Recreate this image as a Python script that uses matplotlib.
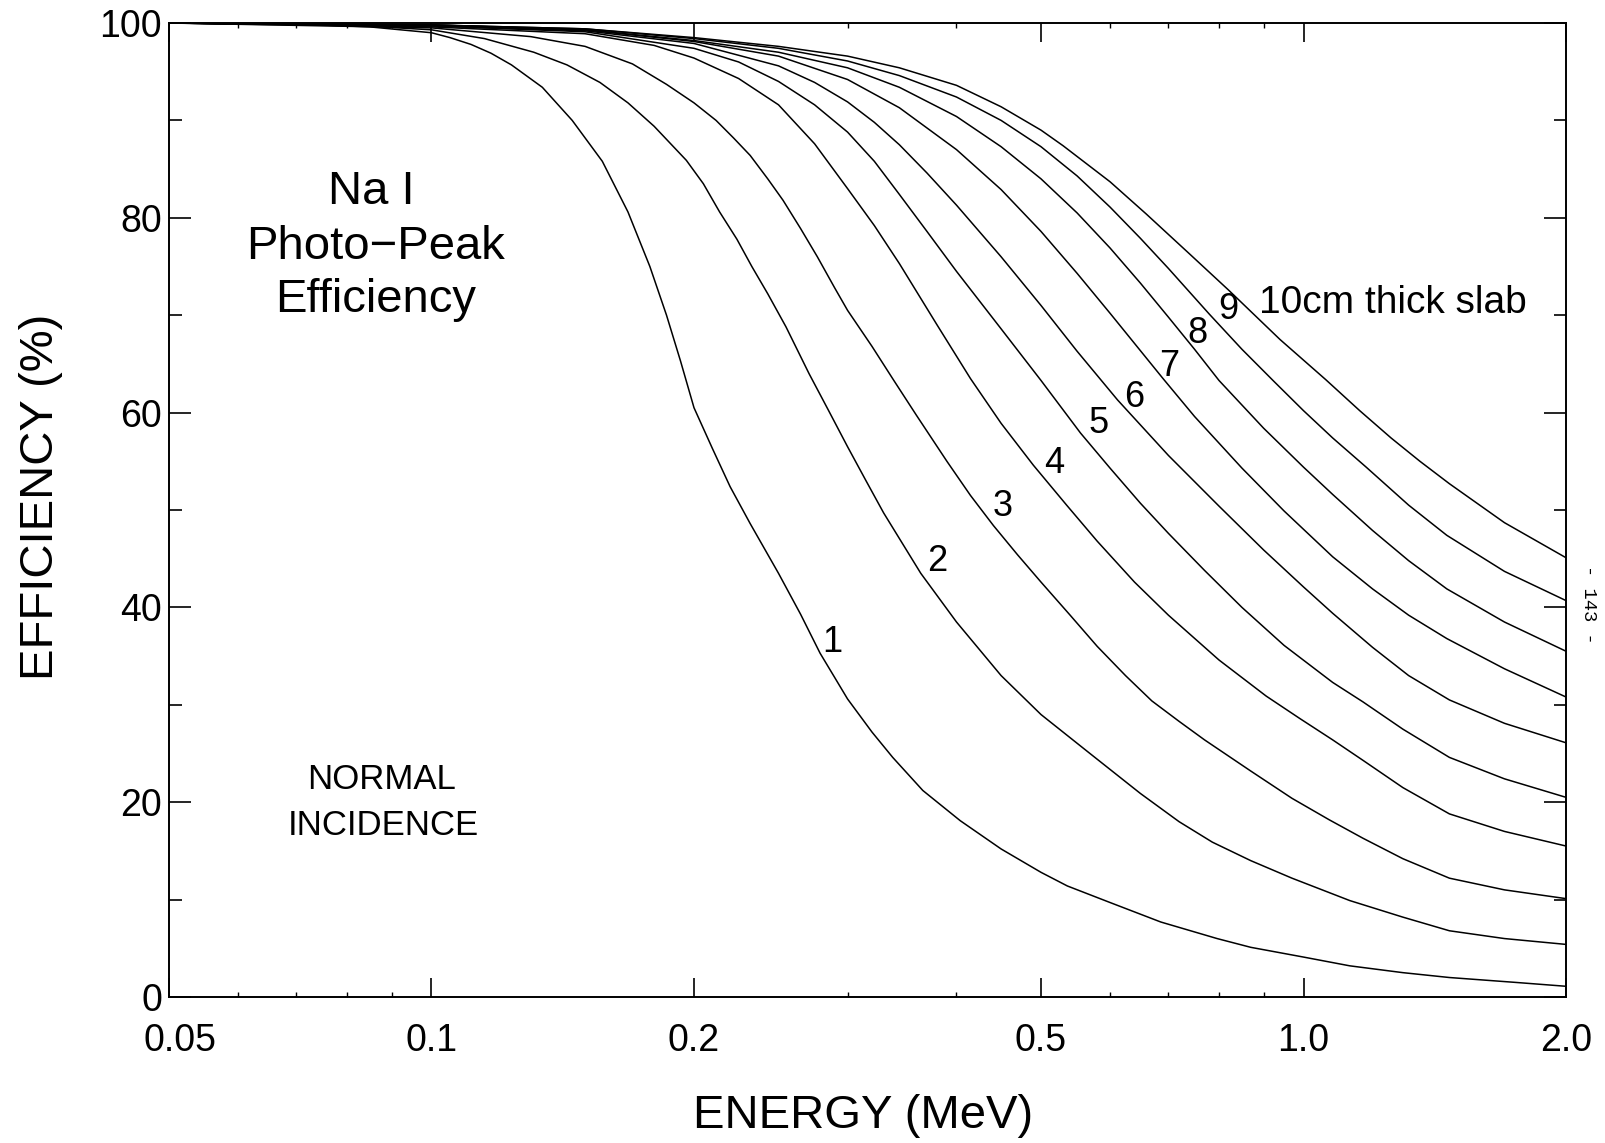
import matplotlib
matplotlib.use("Agg")
from matplotlib import pyplot as plt
from matplotlib.ticker import NullFormatter
from matplotlib.transforms import ScaledTranslation

plt.rcParams['font.family'] = ['Liberation Sans', 'DejaVu Sans']

E1 = [0.05, 0.07, 0.085, 0.1, 0.105, 0.111, 0.117, 0.1235, 0.134, 0.145, 0.157, 0.168, 0.178,
      0.186, 0.193, 0.2, 0.21, 0.22, 0.232, 0.25, 0.265, 0.279, 0.29, 0.30, 0.32, 0.338, 0.366,
      0.404, 0.45, 0.5, 0.536, 0.6, 0.686, 0.796, 0.87, 1.0, 1.13, 1.3, 1.47, 1.75, 2.0]
Y1 = [100, 99.9, 99.6, 99.0, 98.5, 97.8, 96.9, 95.7, 93.4, 90.0, 85.8, 80.6, 75.0,
      70.0, 65.3, 60.5, 56.3, 52.4, 48.6, 43.5, 39.3, 35.3, 32.8, 30.6, 27.2, 24.6, 21.2,
      18.1, 15.2, 12.8, 11.4, 9.7, 7.7, 6.0, 5.1, 4.1, 3.2, 2.5, 2.0, 1.5, 1.1]

E2 = [0.05, 0.08, 0.1, 0.115, 0.131, 0.143, 0.156, 0.168, 0.18, 0.196, 0.205, 0.214, 0.224,
      0.233, 0.243, 0.255, 0.271, 0.285, 0.30, 0.315, 0.33, 0.364, 0.40, 0.45, 0.5, 0.569, 0.65,
      0.72, 0.786, 0.87, 0.97, 1.13, 1.3, 1.47, 1.7, 2.0]
Y2 = [100, 99.8, 99.3, 98.4, 97.0, 95.7, 93.9, 91.8, 89.4, 85.9, 83.5, 80.6, 77.8,
      75.0, 72.2, 68.8, 64.0, 60.3, 56.5, 53.0, 49.7, 43.5, 38.5, 33.0, 29.0, 25.0, 20.9,
      18.0, 15.9, 14.0, 12.2, 9.9, 8.2, 6.8, 6.0, 5.4]

E3 = [0.05, 0.1, 0.13, 0.15, 0.17, 0.186, 0.2, 0.212, 0.222, 0.232, 0.243, 0.253, 0.265, 0.277,
      0.29, 0.30, 0.32, 0.339, 0.36, 0.39, 0.415, 0.441, 0.47, 0.5, 0.54, 0.58, 0.625, 0.67,
      0.72, 0.77, 0.87, 0.97, 1.07, 1.17, 1.3, 1.47, 1.7, 2.0]
Y3 = [100, 99.5, 98.6, 97.6, 95.8, 93.7, 91.8, 90.0, 88.2, 86.4, 84.0, 81.8, 78.9, 76.0,
      72.8, 70.5, 66.8, 63.3, 59.7, 55.0, 51.5, 48.4, 45.4, 42.6, 39.2, 36.0, 33.0, 30.4,
      28.3, 26.4, 23.2, 20.4, 18.2, 16.3, 14.2, 12.2, 11.0, 10.1]

E4 = [0.05, 0.1, 0.15, 0.18, 0.2, 0.225, 0.25, 0.275, 0.3, 0.322, 0.344, 0.38, 0.415, 0.45,
      0.49, 0.535, 0.58, 0.64, 0.7, 0.8, 0.906, 0.99, 1.08, 1.17, 1.3, 1.47, 1.7, 2.0]
Y4 = [100, 99.6, 98.9, 97.7, 96.4, 94.3, 91.6, 87.6, 83.0, 79.2, 75.3, 69.0, 63.5, 58.9,
      54.6, 50.5, 46.8, 42.6, 39.2, 34.6, 30.9, 28.6, 26.4, 24.3, 21.5, 18.8, 17.0, 15.5]

E5 = [0.05, 0.1, 0.15, 0.2, 0.225, 0.25, 0.275, 0.3, 0.322, 0.344, 0.37, 0.4, 0.45, 0.5,
      0.555, 0.6, 0.65, 0.7, 0.77, 0.85, 0.95, 1.08, 1.17, 1.3, 1.47, 1.7, 2.0]
Y5 = [100, 99.7, 99.1, 97.4, 96.0, 94.0, 91.6, 88.8, 85.8, 82.4, 78.6, 74.5, 68.6, 63.3,
      57.9, 54.3, 50.7, 47.6, 43.8, 40.0, 36.1, 32.3, 30.3, 27.5, 24.6, 22.4, 20.5]

E6 = [0.05, 0.1, 0.15, 0.2, 0.25, 0.275, 0.3, 0.322, 0.344, 0.37, 0.4, 0.45, 0.5, 0.55, 0.612,
      0.7, 0.8, 0.9, 1.0, 1.08, 1.2, 1.32, 1.47, 1.7, 2.0]
Y6 = [100, 99.7, 99.2, 97.9, 95.6, 93.9, 91.9, 89.8, 87.5, 84.6, 81.3, 76.0, 71.0, 66.3, 61.3,
      55.6, 50.4, 45.9, 42.1, 39.4, 35.9, 33.0, 30.5, 28.1, 26.1]

E7 = [0.05, 0.1, 0.15, 0.2, 0.25, 0.3, 0.344, 0.4, 0.45, 0.5, 0.55, 0.6, 0.69, 0.75, 0.85,
      0.95, 1.08, 1.2, 1.32, 1.46, 1.7, 2.0]
Y7 = [100, 99.8, 99.3, 98.1, 96.6, 94.2, 91.3, 87.0, 82.9, 78.6, 74.3, 70.2, 63.5, 59.6, 54.3,
      49.9, 45.2, 41.9, 39.2, 36.8, 33.7, 30.8]

E8 = [0.05, 0.1, 0.15, 0.2, 0.25, 0.3, 0.344, 0.4, 0.45, 0.5, 0.55, 0.6, 0.65, 0.7, 0.75, 0.8,
      0.9, 1.0, 1.08, 1.2, 1.32, 1.46, 1.7, 2.0]
Y8 = [100, 99.8, 99.3, 98.2, 97.0, 95.4, 93.4, 90.4, 87.3, 84.0, 80.5, 76.9, 73.3, 69.8, 66.5, 63.3,
      58.4, 54.4, 51.6, 47.9, 44.8, 41.9, 38.5, 35.5]

E9 = [0.05, 0.1, 0.15, 0.2, 0.25, 0.3, 0.344, 0.4, 0.45, 0.5, 0.55, 0.6, 0.65, 0.7, 0.78, 0.85,
      0.925, 1.0, 1.08, 1.18, 1.32, 1.46, 1.7, 2.0]
Y9 = [100, 99.8, 99.4, 98.4, 97.4, 96.1, 94.6, 92.4, 90.0, 87.3, 84.3, 81.1, 77.9, 74.8, 70.1, 66.5,
      63.2, 60.2, 57.4, 54.4, 50.5, 47.4, 43.7, 40.7]

E10 = [0.05, 0.1, 0.15, 0.2, 0.25, 0.3, 0.344, 0.4, 0.45, 0.5, 0.53, 0.6, 0.66, 0.74, 0.82, 0.94,
       1.06, 1.16, 1.26, 1.36, 1.47, 1.7, 2.0]
Y10 = [100, 99.8, 99.4, 98.5, 97.6, 96.6, 95.4, 93.6, 91.4, 89.0, 87.4, 83.7, 80.4, 76.3, 72.6, 67.5,
       63.4, 60.2, 57.4, 55.0, 52.7, 48.7, 45.1]

curves = [(E1, Y1), (E2, Y2), (E3, Y3), (E4, Y4), (E5, Y5),
          (E6, Y6), (E7, Y7), (E8, Y8), (E9, Y9), (E10, Y10)]

# curve number labels (energy, efficiency)
label_text = ['1', '2', '3', '4', '5', '6', '7', '8', '9']
label_e = [0.288, 0.380, 0.452, 0.518, 0.582, 0.640, 0.702, 0.755, 0.820]
label_y = [36.4, 44.7, 50.4, 54.8, 58.9, 61.5, 64.7, 68.1, 70.6]

x_ticks = [0.05, 0.1, 0.2, 0.5, 1.0, 2.0]
x_tick_labels = ['0.05', '0.1', '0.2', '0.5', '1.0', '2.0']
x_minor = [0.06, 0.07, 0.08, 0.09, 0.3, 0.4, 0.6, 0.7, 0.8, 0.9]
y_ticks = [0, 20, 40, 60, 80, 100]
y_minor = [10, 30, 50, 70, 90]

fig = plt.figure(figsize=(16.05, 11.43), dpi=100)
ax = fig.add_axes([169 / 1605, 1 - 997 / 1143, 1397 / 1605, 974 / 1143])

for e, y in curves:
    ax.plot(e, y, color='black', lw=1.1)

ax.set_xscale('log')
ax.set_xlim(0.05, 2.0)
ax.set_ylim(0, 100)

ax.set_xticks(x_ticks)
ax.set_xticklabels(x_tick_labels)
ax.set_xticks(x_minor, minor=True)
ax.xaxis.set_minor_formatter(NullFormatter())
ax.set_yticks(y_ticks)
ax.set_yticks(y_minor, minor=True)

ax.tick_params(axis='x', which='major', direction='in', length=14, width=1.2,
               top=True, labelsize=27, pad=19)
ax.tick_params(axis='x', which='minor', direction='in', length=3.5, width=1.0, top=True)
ax.tick_params(axis='y', which='major', direction='in', length=16, width=1.2,
               right=True, labelsize=27, pad=5)
ax.tick_params(axis='y', which='minor', direction='in', length=9, width=1.2, right=True)
for s in ax.spines.values():
    s.set_linewidth(1.4)

# first x label sits a little right of the axis corner in the original
first = ax.get_xticklabels()[0]
first.set_transform(first.get_transform() + ScaledTranslation(0.11, 0, fig.dpi_scale_trans))

for t, e, y in zip(label_text, label_e, label_y):
    ax.text(e, y, t, fontsize=26, ha='center', va='center')

ax.text(0.889, 71.3, '10cm thick slab', fontsize=28, ha='left', va='center')

ax.text(0.0852, 82.6, 'Na I', fontsize=34, ha='center', va='center')
ax.text(0.0862, 77.0, 'Photo\u2212Peak', fontsize=34, ha='center', va='center')
ax.text(0.0862, 71.6, 'Efficiency', fontsize=34, ha='center', va='center')

ax.text(0.0877, 22.3, 'NORMAL', fontsize=25, ha='center', va='center')
ax.text(0.0881, 17.6, 'INCIDENCE', fontsize=25, ha='center', va='center')

fig.text(863 / 1605, 1 - 1116 / 1143, 'ENERGY (MeV)', fontsize=34, ha='center', va='center')
fig.text(41 / 1605, 1 - 497 / 1143, 'EFFICIENCY (%)', fontsize=34, ha='center', va='center',
         rotation=90)
fig.text(1589 / 1605, 1 - 604 / 1143, '- 143 -', fontsize=13.5, ha='center', va='center',
         rotation=-90, family='Liberation Mono')

fig.savefig('out.png', dpi=100)
